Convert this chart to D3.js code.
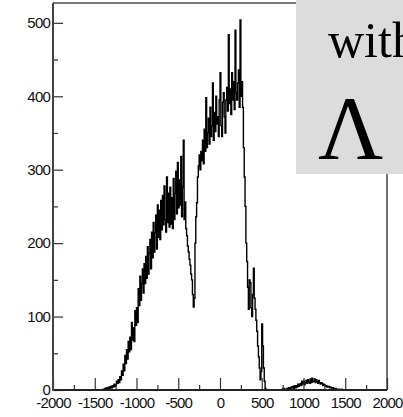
<!DOCTYPE html>
<html>
<head>
    <style>
        body { margin: 0; background: #fff; }
        .tick text { font: 15px "Liberation Sans", Arial, sans-serif; letter-spacing: -0.8px; fill: #111; }
        .axis path { display: none; }
        .axis line { stroke: #333; stroke-width: 1.2px; }
        .hist { fill: none; stroke: #000; stroke-width: 1.4px; }
    </style>
</head>
<body>
    <div id="chart"></div>

    <script src="https://d3js.org/d3.v7.min.js"></script>
    <script>
        // 10 unit wide bins from -1500, counts
        const binStart = -1500;
        const binWidth = 10;
        const counts = [
            0, 0, 0, 0, 0, 0, 0, 0, 0, 0,                   // -1500
            1, 0, 2, 1, 3, 2, 1, 4, 2, 5,                   // -1400
            3, 6, 4, 8, 5, 7, 12, 9, 14, 10,                // -1300
            18, 14, 26, 20, 35, 26, 47, 36, 55, 42,         // -1200
            66, 52, 72, 55, 92, 68, 85, 66, 108, 88,        // -1100
            112, 92, 138, 115, 155, 122, 145, 165, 132, 172, // -1000
            145, 182, 152, 195, 158, 186, 205, 165, 215, 180, // -900
            228, 188, 214, 238, 192, 252, 208, 245, 205, 258, // -800
            218, 265, 225, 278, 232, 215, 290, 228, 268, 222, // -700
            276, 226, 262, 220, 288, 232, 268, 298, 240, 310, // -600
            248, 286, 252, 318, 236, 276, 340, 232, 256, 220, // -500
            210, 196, 188, 178, 170, 158, 150, 130, 113, 125, // -400
            200, 236, 255, 290, 305, 320, 300, 325, 312, 340, // -300
            308, 355, 325, 398, 330, 350, 370, 335, 385, 345, // -200
            360, 418, 340, 378, 352, 400, 362, 372, 345, 395, // -100
            432, 360, 345, 392, 405, 372, 350, 395, 412, 380, // 0
            484, 390, 410, 375, 432, 395, 420, 382, 490, 405, // 100
            395, 418, 436, 385, 504, 400, 420, 385, 330, 290, // 200
            250, 200, 175, 140, 110, 150, 146, 112, 100, 130, // 300
            166, 125, 110, 95, 80, 60, 45, 30, 14, 25,        // 400
            90, 60, 30, 12, 2, 0, 0, 0, 0, 0,                 // 500
            0, 0, 0, 0, 0, 0, 0, 0, 0, 0,                     // 600
            0, 0, 0, 0, 1, 0, 2, 0, 1, 0,                     // 700
            2, 0, 3, 1, 2, 4, 3, 5, 2, 6,                     // 800
            3, 6, 4, 8, 5, 7, 9, 6, 12, 8,                    // 900
            12, 7, 10, 13, 9, 14, 11, 9, 15, 10,              // 1000
            16, 11, 12, 15, 10, 14, 12, 9, 13, 10,            // 1100
            8, 10, 9, 6, 8, 7, 5, 6, 4, 5,                    // 1200
            5, 3, 4, 3, 2, 3, 2, 1, 2, 1,                     // 1300
            1, 0, 1, 0, 0, 1, 0, 0, 0, 0                      // 1400
        ];

        const xTicks = [-2000, -1500, -1000, -500, 0, 500, 1000, 1500, 2000];
        const xMinor = [-1750, -1250, -750, -250, 250, 750, 1250, 1750];
        const yTicks = [0, 100, 200, 300, 400, 500];
        const yMinor = [50, 150, 250, 350, 450];

        const boxLines = ["with", "Λ"];

        const width = 403, height = 417;
        const x = d3.scaleLinear().domain([-2000, 2000]).range([53, 387]);
        const y = d3.scaleLinear().domain([0, 527]).range([390, 3]);

        const svg = d3.select("#chart").append("svg")
            .attr("width", width)
            .attr("height", height);

        // frame: top and right in grey, left and bottom darker
        svg.append("line").attr("x1", 53).attr("x2", 387).attr("y1", 3).attr("y2", 3)
            .attr("stroke", "#777").attr("stroke-width", 2);
        svg.append("line").attr("x1", 387).attr("x2", 387).attr("y1", 3).attr("y2", 390)
            .attr("stroke", "#444").attr("stroke-width", 1.5);

        // histogram
        const pts = counts.map((c, i) => [binStart + i * binWidth + binWidth / 2, c]);
        svg.append("path")
            .datum(pts)
            .attr("class", "hist")
            .attr("d", d3.line().x(d => x(d[0])).y(d => y(d[1])).curve(d3.curveStep));

        const fmt = d => String(d);

        // x axis
        svg.append("g").attr("class", "axis")
            .attr("transform", "translate(0,390)")
            .call(d3.axisBottom(x).tickValues(xTicks).tickFormat(fmt)
                .tickSizeInner(-12).tickSizeOuter(0).tickPadding(7));
        svg.append("g").attr("class", "axis")
            .attr("transform", "translate(0,390)")
            .call(d3.axisBottom(x).tickValues(xMinor).tickSizeInner(-5).tickSizeOuter(0).tickFormat(""));

        // y axis
        svg.append("g").attr("class", "axis")
            .attr("transform", "translate(53,0)")
            .call(d3.axisLeft(y).tickValues(yTicks).tickFormat(fmt)
                .tickSizeInner(-10).tickSizeOuter(0).tickPadding(3));
        svg.append("g").attr("class", "axis")
            .attr("transform", "translate(53,0)")
            .call(d3.axisLeft(y).tickValues(yMinor).tickSizeInner(-5).tickSizeOuter(0).tickFormat(""));

        svg.append("line").attr("x1", 53).attr("x2", 387).attr("y1", 390).attr("y2", 390)
            .attr("stroke", "#222").attr("stroke-width", 2);
        svg.append("line").attr("x1", 53).attr("x2", 53).attr("y1", 3).attr("y2", 391)
            .attr("stroke", "#444").attr("stroke-width", 2);

        // grey label box in the top right corner
        svg.append("rect")
            .attr("x", 296).attr("y", 0)
            .attr("width", 120).attr("height", 174)
            .attr("fill", "#dcdcdc");
        svg.append("text")
            .attr("x", 328).attr("y", 57)
            .attr("font-family", "'Liberation Serif', 'Times New Roman', serif")
            .attr("font-size", 50)
            .text(boxLines[0]);
        svg.append("text")
            .attr("x", 318).attr("y", 159)
            .attr("font-family", "'Liberation Serif', 'Times New Roman', serif")
            .attr("font-size", 90)
            .text(boxLines[1]);
    </script>
</body>
</html>
